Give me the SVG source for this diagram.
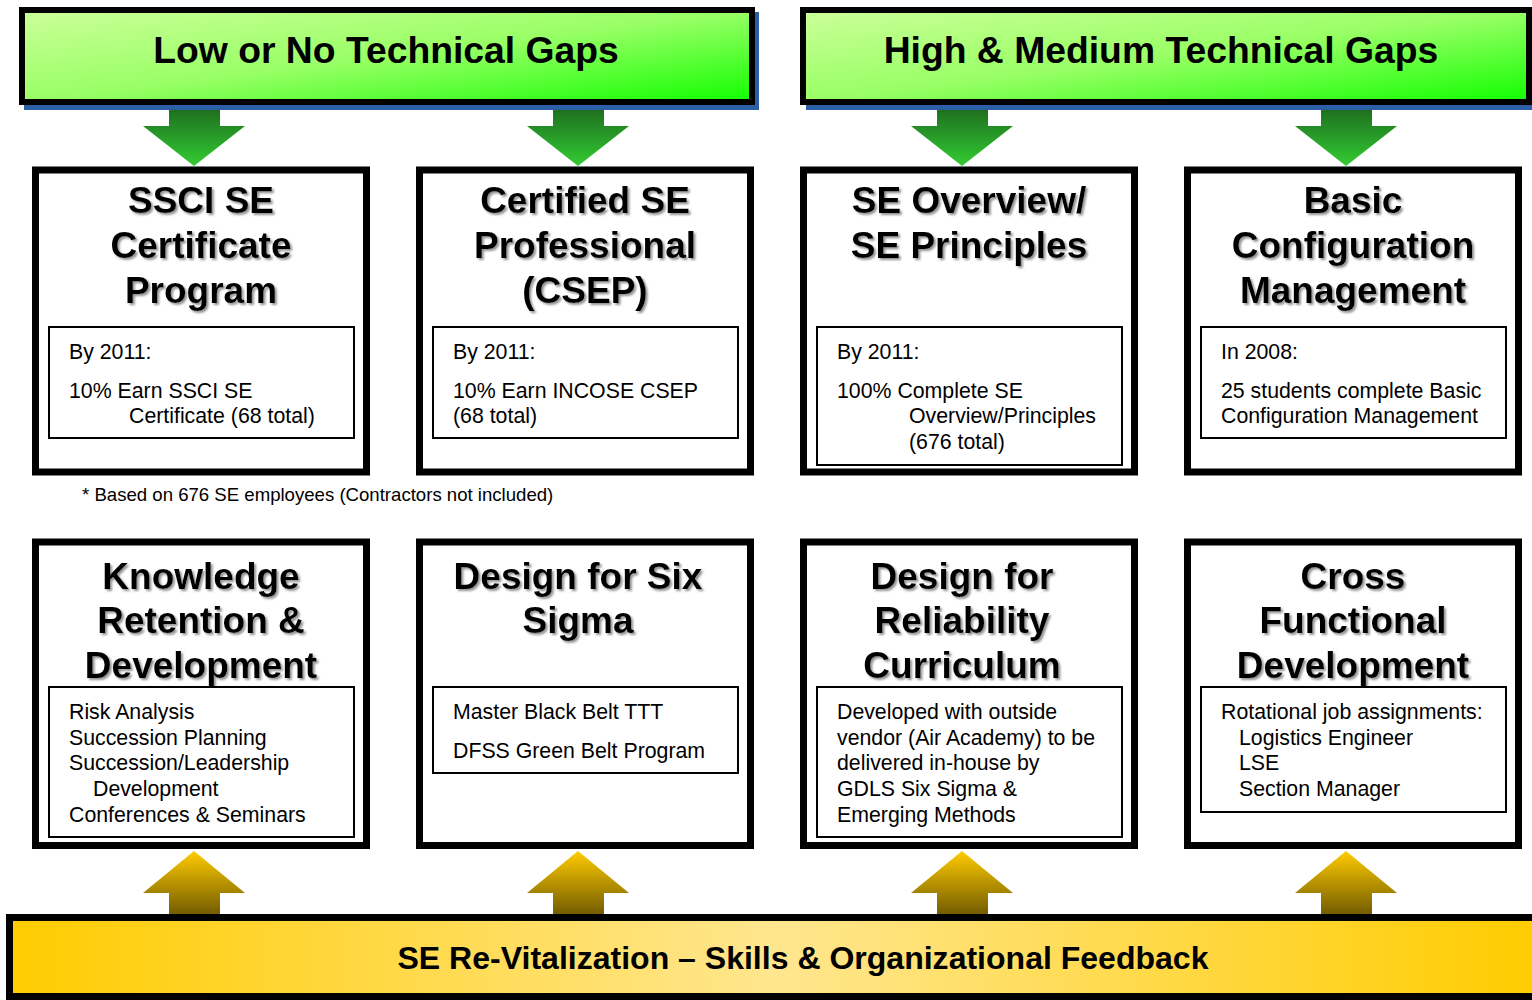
<svg xmlns="http://www.w3.org/2000/svg" width="1532" height="1000" viewBox="0 0 1532 1000">
<defs>
<linearGradient id="gBan" x1="0" y1="0" x2="1" y2="1">
<stop offset="0" stop-color="#ccff99"/>
<stop offset="0.5" stop-color="#99ff66"/>
<stop offset="1" stop-color="#11ff00"/>
</linearGradient>
<linearGradient id="gDown" x1="0" y1="0" x2="0" y2="1">
<stop offset="0" stop-color="#1d6a1d"/>
<stop offset="1" stop-color="#33cc33"/>
</linearGradient>
<linearGradient id="gUp" x1="0" y1="0" x2="0" y2="1">
<stop offset="0" stop-color="#ffcc00"/>
<stop offset="1" stop-color="#6b5500"/>
</linearGradient>
<linearGradient id="gBot" x1="0" y1="0" x2="1" y2="0">
<stop offset="0" stop-color="#ffcc00"/>
<stop offset="0.5" stop-color="#ffe68f"/>
<stop offset="1" stop-color="#ffcc00"/>
</linearGradient>
<filter id="sh" x="-10%" y="-20%" width="120%" height="140%">
<feDropShadow dx="2" dy="2" stdDeviation="1.2" flood-color="#777" flood-opacity="0.8"/>
</filter>
<style>
.ban{fill:url(#gBan);stroke:#000;stroke-width:6}
.shd{fill:#2b60a6}
.box{fill:#fff;stroke:#000;stroke-width:7}
.inner{fill:#fff;stroke:#000;stroke-width:2}
.ht{font-family:"Liberation Sans",Arial,sans-serif;font-weight:bold;font-size:37.3px;fill:#000;text-anchor:middle}
.tt{font-family:"Liberation Sans",Arial,sans-serif;font-weight:bold;font-size:37px;fill:#000;text-anchor:middle;filter:url(#sh)}
.bt{font-family:"Liberation Sans",Arial,sans-serif;font-size:21.3px;fill:#000}
.fn{font-family:"Liberation Sans",Arial,sans-serif;font-size:18.6px;fill:#000}
.bb{font-family:"Liberation Sans",Arial,sans-serif;font-weight:bold;font-size:31px;fill:#000;text-anchor:middle}
.dn{fill:url(#gDown)}
.up{fill:url(#gUp)}
</style>
</defs>
<rect width="1532" height="1000" fill="#fff"/>

<g id="connectors">
<polygon class="dn" points="169,106 220,106 220,126 245,126 194,166 143,126 169,126"/>
<polygon class="dn" points="553,106 604,106 604,126 629,126 578,166 527,126 553,126"/>
<polygon class="dn" points="937,106 988,106 988,126 1013,126 962,166 911,126 937,126"/>
<polygon class="dn" points="1321,106 1372,106 1372,126 1397,126 1346,166 1295,126 1321,126"/>
<polygon class="up" points="194,851 245,893 220,893 220,918 169,918 169,893 143,893"/>
<polygon class="up" points="578,851 629,893 604,893 604,918 553,918 553,893 527,893"/>
<polygon class="up" points="962,851 1013,893 988,893 988,918 937,918 937,893 911,893"/>
<polygon class="up" points="1346,851 1397,893 1372,893 1372,918 1321,918 1321,893 1295,893"/>
</g>

<g id="banner-low">
<rect class="shd" x="24" y="12" width="735" height="98"/>
<rect class="ban" x="22" y="10" width="730" height="92"/>
<text class="ht" x="386" y="63">Low or No Technical Gaps</text>
</g>
<g id="banner-high">
<rect class="shd" x="806" y="12" width="735" height="98"/>
<rect class="ban" x="803" y="10" width="726" height="92"/>
<text class="ht" x="1161" y="63">High &amp; Medium Technical Gaps</text>
</g>

<g id="box-ssci">
<rect class="box" x="35.5" y="170" width="331" height="302"/>
<text class="tt" x="201" y="213">SSCI SE</text>
<text class="tt" x="201" y="258">Certificate</text>
<text class="tt" x="201" y="303">Program</text>
<rect class="inner" x="49" y="327" width="305" height="111"/>
<text class="bt" x="69" y="359">By 2011:</text>
<text class="bt" x="69" y="398">10% Earn SSCI SE</text>
<text class="bt" x="129" y="423">Certificate (68 total)</text>
</g>

<g id="box-csep">
<rect class="box" x="419.5" y="170" width="331" height="302"/>
<text class="tt" x="585" y="213">Certified SE</text>
<text class="tt" x="585" y="258">Professional</text>
<text class="tt" x="585" y="303">(CSEP)</text>
<rect class="inner" x="433" y="327" width="305" height="111"/>
<text class="bt" x="453" y="359">By 2011:</text>
<text class="bt" x="453" y="398">10% Earn INCOSE CSEP</text>
<text class="bt" x="453" y="423">(68 total)</text>
</g>

<g id="box-overview">
<rect class="box" x="803.5" y="170" width="331" height="302"/>
<text class="tt" x="969" y="213">SE Overview/</text>
<text class="tt" x="969" y="258">SE Principles</text>
<rect class="inner" x="817" y="327" width="305" height="138"/>
<text class="bt" x="837" y="359">By 2011:</text>
<text class="bt" x="837" y="398">100% Complete SE</text>
<text class="bt" x="909" y="423">Overview/Principles</text>
<text class="bt" x="909" y="449">(676 total)</text>
</g>

<g id="box-config">
<rect class="box" x="1187.5" y="170" width="331" height="302"/>
<text class="tt" x="1353" y="213">Basic</text>
<text class="tt" x="1353" y="258">Configuration</text>
<text class="tt" x="1353" y="303">Management</text>
<rect class="inner" x="1201" y="327" width="305" height="111"/>
<text class="bt" x="1221" y="359">In 2008:</text>
<text class="bt" x="1221" y="398">25 students complete Basic</text>
<text class="bt" x="1221" y="423">Configuration Management</text>
</g>

<g id="footnote">
<text class="fn" x="82" y="501">* Based on 676 SE employees (Contractors not included)</text>
</g>

<g id="box-knowledge">
<rect class="box" x="35.5" y="542" width="331" height="303.5"/>
<text class="tt" x="201" y="589">Knowledge</text>
<text class="tt" x="201" y="633">Retention &amp;</text>
<text class="tt" x="201" y="678">Development</text>
<rect class="inner" x="49" y="687" width="305" height="150"/>
<text class="bt" x="69" y="719">Risk Analysis</text>
<text class="bt" x="69" y="745">Succession Planning</text>
<text class="bt" x="69" y="770">Succession/Leadership</text>
<text class="bt" x="93" y="796">Development</text>
<text class="bt" x="69" y="822">Conferences &amp; Seminars</text>
</g>

<g id="box-dfss">
<rect class="box" x="419.5" y="542" width="331" height="303.5"/>
<text class="tt" x="578" y="589">Design for Six</text>
<text class="tt" x="578" y="633">Sigma</text>
<rect class="inner" x="433" y="687" width="305" height="86"/>
<text class="bt" x="453" y="719">Master Black Belt TTT</text>
<text class="bt" x="453" y="758">DFSS Green Belt Program</text>
</g>

<g id="box-reliability">
<rect class="box" x="803.5" y="542" width="331" height="303.5"/>
<text class="tt" x="962" y="589">Design for</text>
<text class="tt" x="962" y="633">Reliability</text>
<text class="tt" x="962" y="678">Curriculum</text>
<rect class="inner" x="817" y="687" width="305" height="150"/>
<text class="bt" x="837" y="719">Developed with outside</text>
<text class="bt" x="837" y="745">vendor (Air Academy) to be</text>
<text class="bt" x="837" y="770">delivered in-house by</text>
<text class="bt" x="837" y="796">GDLS Six Sigma &amp;</text>
<text class="bt" x="837" y="822">Emerging Methods</text>
</g>

<g id="box-cross">
<rect class="box" x="1187.5" y="542" width="331" height="303.5"/>
<text class="tt" x="1353" y="589">Cross</text>
<text class="tt" x="1353" y="633">Functional</text>
<text class="tt" x="1353" y="678">Development</text>
<rect class="inner" x="1201" y="687" width="305" height="125"/>
<text class="bt" x="1221" y="719">Rotational job assignments:</text>
<text class="bt" x="1239" y="745">Logistics Engineer</text>
<text class="bt" x="1239" y="770">LSE</text>
<text class="bt" x="1239" y="796">Section Manager</text>
</g>

<g id="banner-feedback">
<rect x="9.5" y="917.5" width="1530" height="79" fill="url(#gBot)" stroke="#000" stroke-width="7"/>
<text class="bb" x="803" y="969" textLength="811" lengthAdjust="spacingAndGlyphs">SE Re-Vitalization – Skills &amp; Organizational Feedback</text>
</g>
</svg>
